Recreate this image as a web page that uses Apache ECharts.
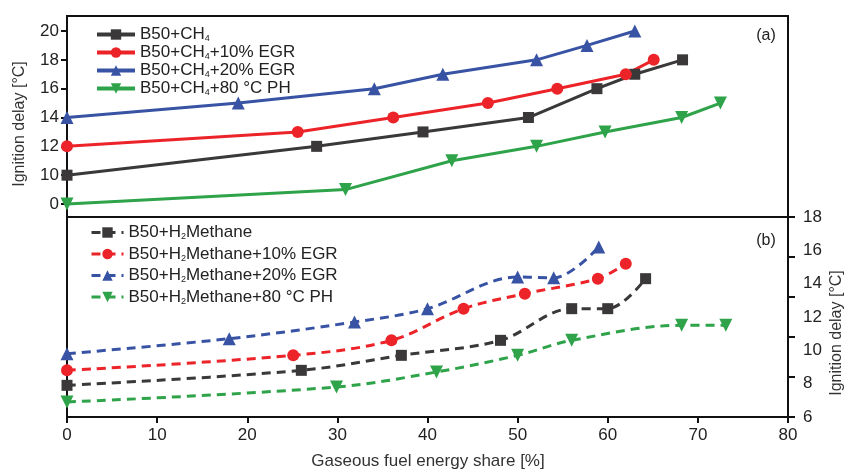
<!DOCTYPE html>
<html>
<head>
<meta charset="utf-8">
<script src="https://cdn.jsdelivr.net/npm/echarts@6/dist/echarts.min.js"></script>
<style>
html,body{margin:0;padding:0;background:#fff;}
#chart{width:846px;height:469px;}
</style>
</head>
<body>
<div id="chart"></div>
<script>
// ---- Data ----
// Panel (a): CH4
const ch4X      = [0, 27.7, 39.5, 51.2, 58.8, 63.0, 68.3];
const ch4Y      = [10, 12, 13, 14, 16, 17, 18];
const ch4Egr10X = [0, 25.6, 36.2, 46.7, 54.4, 62.0, 65.1];
const ch4Egr10Y = [12, 13, 14, 15, 16, 17, 18];
const ch4Egr20X = [0, 19.0, 34.1, 41.7, 52.1, 57.7, 63.0];
const ch4Egr20Y = [14, 15, 16, 17, 18, 19, 20];
const ch4Ph80X  = [0, 30.9, 42.7, 52.1, 59.7, 68.2, 72.5];
const ch4Ph80Y  = [8, 9, 11, 12, 13, 14, 15];
// Panel (b): H2Methane
const h2X       = [0, 26.0, 37.1, 48.1, 56.0, 60.0, 64.2];
const h2Y       = [7.9, 8.8, 9.7, 10.6, 12.5, 12.5, 14.3];
const h2Egr10X  = [0, 25.1, 36.0, 44.0, 50.8, 58.9, 62.0];
const h2Egr10Y  = [8.8, 9.7, 10.6, 12.5, 13.4, 14.3, 15.2];
const h2Egr20X  = [0, 18.0, 31.9, 40.0, 50.0, 54.0, 59.0];
const h2Egr20Y  = [9.8, 10.7, 11.7, 12.5, 14.4, 14.35, 16.2];
const h2Ph80X   = [0, 29.9, 41.0, 50.0, 56.0, 68.2, 73.1];
const h2Ph80Y   = [6.9, 7.8, 8.7, 9.7, 10.6, 11.5, 11.5];

const namesA = ['B50+CH4', 'B50+CH4+10% EGR', 'B50+CH4+20% EGR', 'B50+CH4+80 °C PH'];
const namesB = ['B50+H2Methane', 'B50+H2Methane+10% EGR', 'B50+H2Methane+20% EGR', 'B50+H2Methane+80 °C PH'];

// Tick values / labels
const topTickValues = [8, 10, 12, 14, 16, 18, 20];
const topTickLabels = ['0', '10', '12', '14', '16', '18', '20'];
const rightLabelValues = [6, 8, 10, 12, 14, 16, 18];
const rightTickCount = 5;   // right-axis tick marks split the panel into 5 equal steps
const xTickLabels = ['0', '10', '20', '30', '40', '50', '60', '70', '80'];

const yTitle = 'Ignition delay [°C]';
const xTitle = 'Gaseous fuel energy share [%]';

// ---- Styles ----
const C_BLACK = '#3a3838', C_RED = '#ec2328', C_BLUE = '#3853a4', C_GREEN = '#2fa34a';
const FONT = 'Liberation Sans, Arial, sans-serif';

function zip(xs, ys) { return xs.map((x, i) => [x, ys[i]]); }

function topSeries(name, xs, ys, color, symbol, size, rot) {
  return {
    name, type: 'line', xAxisIndex: 0, yAxisIndex: 0,
    data: zip(xs, ys), symbol, symbolSize: size, symbolRotate: rot || 0,
    lineStyle: { color, width: 3 }, itemStyle: { color },
    z: 3, animation: false
  };
}
function botSeries(name, xs, ys, color, symbol, size, rot) {
  return {
    name, type: 'line', xAxisIndex: 1, yAxisIndex: 1,
    data: zip(xs, ys), symbol, symbolSize: size, symbolRotate: rot || 0,
    smooth: 0.35,
    lineStyle: { color, width: 3, type: [9, 6] }, itemStyle: { color },
    z: 3, animation: false
  };
}

function subFormatter(name) {
  const m = name.match(/^(.*?(?:CH|H))(\d)(.*)$/);
  if (!m) return '{n|' + name + '}';
  let s = '{n|' + m[1] + '}{s|' + m[2] + '}';
  if (m[3]) s += '{n|' + m[3] + '}';
  return s;
}
const legendRich = {
  n: { fontSize: 17, fontFamily: FONT, color: '#222', lineHeight: 18 },
  s: { fontSize: 9, fontFamily: FONT, color: '#222', lineHeight: 18, verticalAlign: 'bottom' }
};

const chart = echarts.init(document.getElementById('chart'), null, { renderer: 'canvas' });

const option = {
  backgroundColor: '#fff',
  animation: false,
  grid: [
    { left: 67, right: 58, top: 16, height: 201, show: true, borderColor: '#111', borderWidth: 2, backgroundColor: 'transparent' },
    { left: 67, right: 58, top: 217, height: 200, show: true, borderColor: '#111', borderWidth: 2, backgroundColor: 'transparent' }
  ],
  xAxis: [
    { gridIndex: 0, type: 'value', min: 0, max: 80, interval: 10,
      axisLine: { show: false }, axisTick: { show: false }, axisLabel: { show: false }, splitLine: { show: false } },
    { gridIndex: 1, type: 'value', min: 0, max: 80, interval: 10,
      axisLine: { show: true, lineStyle: { color: '#111', width: 2 } },
      axisTick: { show: true, length: 6, lineStyle: { color: '#111', width: 2 } },
      axisLabel: { show: true, fontSize: 17, fontFamily: FONT, color: '#222', margin: 10,
        formatter: (v) => xTickLabels[Math.round(v / 10)] },
      splitLine: { show: false } }
  ],
  yAxis: [
    { gridIndex: 0, type: 'value', min: 7.1, max: 21.04, position: 'left',
      axisLine: { show: true, lineStyle: { color: '#111', width: 2 } },
      axisTick: { show: true, length: 6, customValues: topTickValues, lineStyle: { color: '#111', width: 2 } },
      axisLabel: { show: true, customValues: topTickValues, fontSize: 17, fontFamily: FONT, color: '#222', margin: 8,
        formatter: (v) => { const i = topTickValues.indexOf(Math.round(v)); return i >= 0 ? topTickLabels[i] : ''; } },
      splitLine: { show: false } },
    { gridIndex: 1, type: 'value', min: 6, max: 18, interval: 2, position: 'right',
      axisLine: { show: true, lineStyle: { color: '#111', width: 2 } },
      axisTick: { show: false },
      axisLabel: { show: true, fontSize: 17, fontFamily: FONT, color: '#222', margin: 15 },
      splitLine: { show: false } },
    { gridIndex: 1, type: 'value', min: 0, max: rightTickCount, interval: 1, position: 'right',
      axisLine: { show: false },
      axisTick: { show: true, length: 7, lineStyle: { color: '#111', width: 2 } },
      axisLabel: { show: false },
      splitLine: { show: false } }
  ],
  legend: [
    { data: namesA, orient: 'vertical', left: 95, top: 26, padding: 0, itemGap: 0.5, itemWidth: 38, itemHeight: 13,
      formatter: subFormatter, textStyle: { fontSize: 17, fontFamily: FONT, color: '#222', rich: legendRich },
      lineStyle: { width: 4 }, selectedMode: false },
    { data: namesB, orient: 'vertical', left: 90, top: 224, padding: 0, itemGap: 4, itemWidth: 32, itemHeight: 13,
      formatter: subFormatter, textStyle: { fontSize: 17, fontFamily: FONT, color: '#222', rich: legendRich },
      lineStyle: { width: 3 }, selectedMode: false }
  ],
  graphic: [
    { type: 'text', x: 20, y: 124, rotation: Math.PI / 2,
      style: { text: yTitle, fontSize: 16, fontFamily: FONT, fill: '#333', textAlign: 'center', textVerticalAlign: 'middle', align: 'center', verticalAlign: 'middle' } },
    { type: 'text', x: 837, y: 333, rotation: Math.PI / 2,
      style: { text: yTitle, fontSize: 16, fontFamily: FONT, fill: '#333', textAlign: 'center', textVerticalAlign: 'middle', align: 'center', verticalAlign: 'middle' } },
    { type: 'text', x: 428, y: 461,
      style: { text: xTitle, fontSize: 17, fontFamily: FONT, fill: '#333', textAlign: 'center', textVerticalAlign: 'middle', align: 'center', verticalAlign: 'middle' } },
    { type: 'text', x: 766, y: 36,
      style: { text: '(a)', fontSize: 16, fontFamily: FONT, fill: '#222', textAlign: 'center', textVerticalAlign: 'middle', align: 'center', verticalAlign: 'middle' } },
    { type: 'text', x: 766, y: 241,
      style: { text: '(b)', fontSize: 16, fontFamily: FONT, fill: '#222', textAlign: 'center', textVerticalAlign: 'middle', align: 'center', verticalAlign: 'middle' } }
  ],
  series: [
    topSeries(namesA[0], ch4X, ch4Y, C_BLACK, 'rect', 11),
    topSeries(namesA[1], ch4Egr10X, ch4Egr10Y, C_RED, 'circle', 12),
    topSeries(namesA[2], ch4Egr20X, ch4Egr20Y, C_BLUE, 'triangle', 13),
    topSeries(namesA[3], ch4Ph80X, ch4Ph80Y, C_GREEN, 'triangle', 13, 180),
    botSeries(namesB[0], h2X, h2Y, C_BLACK, 'rect', 11),
    botSeries(namesB[1], h2Egr10X, h2Egr10Y, C_RED, 'circle', 12),
    botSeries(namesB[2], h2Egr20X, h2Egr20Y, C_BLUE, 'triangle', 13),
    botSeries(namesB[3], h2Ph80X, h2Ph80Y, C_GREEN, 'triangle', 13, 180)
  ]
};
chart.setOption(option);
</script>
</body>
</html>
